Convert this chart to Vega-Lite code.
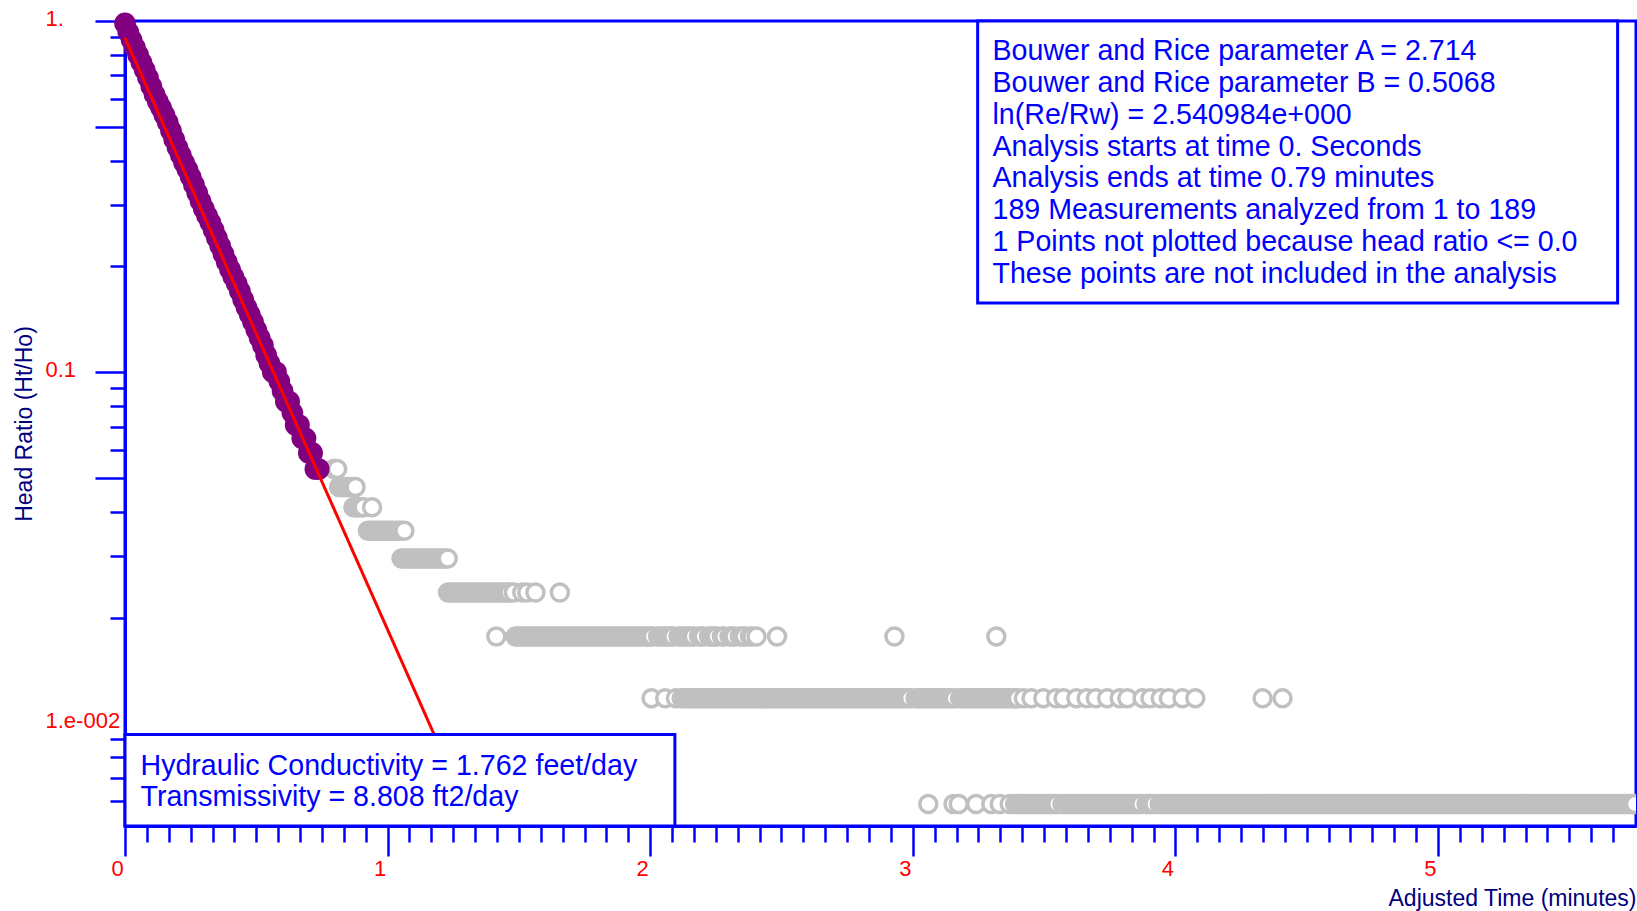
{
  "$schema": "https://vega.github.io/schema/vega-lite/v6.json",
  "width": 1511,
  "height": 805,
  "autosize": {"type": "none"},
  "padding": {"left": 125, "top": 21, "right": 1, "bottom": 85},
  "background": "#FFFFFF",
  "config": {
    "font": "Liberation Sans",
    "view": {"stroke": "#0000FF", "strokeWidth": 3},
    "axis": {
      "grid": false,
      "domainColor": "#0000FF",
      "domainWidth": 3,
      "tickColor": "#0000FF",
      "tickWidth": 2.5,
      "labelColor": "#FF0000",
      "labelFont": "Liberation Sans",
      "labelFontSize": 22,
      "titleColor": "#000080",
      "titleFont": "Liberation Sans",
      "titleFontSize": 23,
      "titleFontWeight": "normal",
      "labelOverlap": false,
      "labelFlush": false
    }
  },
  "datasets": {
    "gray": [
      {"t":0.795,"h":0.05301},{"t":0.801,"h":0.05301},{"t":0.808,"h":0.05301},
      {"t":0.815,"h":0.04712},{"t":0.824,"h":0.04712},{"t":0.833,"h":0.04712},{"t":0.842,"h":0.04712},{"t":0.851,"h":0.04712},{"t":0.86,"h":0.04712},{"t":0.869,"h":0.04712},{"t":0.878,"h":0.04712},
      {"t":0.87,"h":0.04123},{"t":0.878,"h":0.04123},{"t":0.886,"h":0.04123},{"t":0.894,"h":0.04123},{"t":0.902,"h":0.04123},{"t":0.909,"h":0.04123},{"t":0.941,"h":0.04123},
      {"t":0.925,"h":0.03534},{"t":0.935,"h":0.03534},{"t":0.945,"h":0.03534},{"t":0.955,"h":0.03534},{"t":0.965,"h":0.03534},{"t":0.975,"h":0.03534},{"t":0.985,"h":0.03534},{"t":0.995,"h":0.03534},{"t":1.005,"h":0.03534},{"t":1.015,"h":0.03534},{"t":1.025,"h":0.03534},{"t":1.035,"h":0.03534},{"t":1.045,"h":0.03534},{"t":1.055,"h":0.03534},{"t":1.064,"h":0.03534},
      {"t":1.053,"h":0.02945},{"t":1.063,"h":0.02945},{"t":1.073,"h":0.02945},{"t":1.083,"h":0.02945},{"t":1.093,"h":0.02945},{"t":1.103,"h":0.02945},{"t":1.113,"h":0.02945},{"t":1.123,"h":0.02945},{"t":1.133,"h":0.02945},{"t":1.143,"h":0.02945},{"t":1.153,"h":0.02945},{"t":1.163,"h":0.02945},{"t":1.173,"h":0.02945},{"t":1.183,"h":0.02945},{"t":1.193,"h":0.02945},{"t":1.203,"h":0.02945},{"t":1.213,"h":0.02945},{"t":1.221,"h":0.02945},{"t":1.229,"h":0.02945},
      {"t":1.23,"h":0.02356},{"t":1.24,"h":0.02356},{"t":1.25,"h":0.02356},{"t":1.26,"h":0.02356},{"t":1.27,"h":0.02356},{"t":1.28,"h":0.02356},{"t":1.29,"h":0.02356},{"t":1.3,"h":0.02356},{"t":1.31,"h":0.02356},{"t":1.32,"h":0.02356},{"t":1.33,"h":0.02356},{"t":1.34,"h":0.02356},{"t":1.35,"h":0.02356},{"t":1.36,"h":0.02356},{"t":1.37,"h":0.02356},{"t":1.38,"h":0.02356},{"t":1.39,"h":0.02356},{"t":1.4,"h":0.02356},{"t":1.41,"h":0.02356},{"t":1.42,"h":0.02356},{"t":1.43,"h":0.02356},{"t":1.44,"h":0.02356},{"t":1.45,"h":0.02356},{"t":1.458,"h":0.02356},{"t":1.465,"h":0.02356},{"t":1.481,"h":0.02356},{"t":1.513,"h":0.02356},{"t":1.532,"h":0.02356},{"t":1.563,"h":0.02356},{"t":1.656,"h":0.02356},
      {"t":1.414,"h":0.01767},{"t":1.487,"h":0.01767},{"t":1.497,"h":0.01767},{"t":1.507,"h":0.01767},{"t":1.517,"h":0.01767},{"t":1.527,"h":0.01767},{"t":1.537,"h":0.01767},{"t":1.547,"h":0.01767},{"t":1.557,"h":0.01767},{"t":1.567,"h":0.01767},{"t":1.577,"h":0.01767},{"t":1.587,"h":0.01767},{"t":1.597,"h":0.01767},{"t":1.607,"h":0.01767},{"t":1.617,"h":0.01767},{"t":1.627,"h":0.01767},{"t":1.637,"h":0.01767},{"t":1.647,"h":0.01767},{"t":1.657,"h":0.01767},{"t":1.667,"h":0.01767},{"t":1.677,"h":0.01767},{"t":1.687,"h":0.01767},{"t":1.697,"h":0.01767},{"t":1.707,"h":0.01767},{"t":1.717,"h":0.01767},{"t":1.727,"h":0.01767},{"t":1.737,"h":0.01767},{"t":1.747,"h":0.01767},{"t":1.757,"h":0.01767},{"t":1.767,"h":0.01767},{"t":1.777,"h":0.01767},{"t":1.787,"h":0.01767},{"t":1.797,"h":0.01767},{"t":1.807,"h":0.01767},{"t":1.817,"h":0.01767},{"t":1.827,"h":0.01767},{"t":1.837,"h":0.01767},{"t":1.847,"h":0.01767},{"t":1.857,"h":0.01767},{"t":1.867,"h":0.01767},{"t":1.877,"h":0.01767},{"t":1.887,"h":0.01767},{"t":1.897,"h":0.01767},{"t":1.907,"h":0.01767},{"t":1.917,"h":0.01767},{"t":1.927,"h":0.01767},{"t":1.937,"h":0.01767},{"t":1.947,"h":0.01767},{"t":1.957,"h":0.01767},{"t":1.967,"h":0.01767},{"t":1.977,"h":0.01767},{"t":1.987,"h":0.01767},{"t":1.995,"h":0.01767},{"t":2.003,"h":0.01767},{"t":2.01,"h":0.01767},{"t":2.03,"h":0.01767},{"t":2.04,"h":0.01767},{"t":2.05,"h":0.01767},{"t":2.06,"h":0.01767},{"t":2.07,"h":0.01767},{"t":2.08,"h":0.01767},{"t":2.088,"h":0.01767},{"t":2.108,"h":0.01767},{"t":2.118,"h":0.01767},{"t":2.128,"h":0.01767},{"t":2.138,"h":0.01767},{"t":2.148,"h":0.01767},{"t":2.158,"h":0.01767},{"t":2.166,"h":0.01767},{"t":2.186,"h":0.01767},{"t":2.196,"h":0.01767},{"t":2.204,"h":0.01767},{"t":2.224,"h":0.01767},{"t":2.234,"h":0.01767},{"t":2.244,"h":0.01767},{"t":2.253,"h":0.01767},{"t":2.273,"h":0.01767},{"t":2.282,"h":0.01767},{"t":2.302,"h":0.01767},{"t":2.312,"h":0.01767},{"t":2.321,"h":0.01767},{"t":2.341,"h":0.01767},{"t":2.351,"h":0.01767},{"t":2.36,"h":0.01767},{"t":2.38,"h":0.01767},{"t":2.389,"h":0.01767},{"t":2.405,"h":0.01767},{"t":2.483,"h":0.01767},{"t":2.93,"h":0.01767},{"t":3.318,"h":0.01767},
      {"t":2.005,"h":0.01178},{"t":2.057,"h":0.01178},{"t":2.098,"h":0.01178},
      {"t":2.12,"h":0.01178},{"t":2.13,"h":0.01178},{"t":2.14,"h":0.01178},{"t":2.15,"h":0.01178},{"t":2.16,"h":0.01178},{"t":2.17,"h":0.01178},{"t":2.18,"h":0.01178},{"t":2.19,"h":0.01178},{"t":2.2,"h":0.01178},{"t":2.21,"h":0.01178},{"t":2.22,"h":0.01178},{"t":2.23,"h":0.01178},{"t":2.24,"h":0.01178},{"t":2.25,"h":0.01178},{"t":2.26,"h":0.01178},{"t":2.27,"h":0.01178},{"t":2.28,"h":0.01178},{"t":2.29,"h":0.01178},{"t":2.3,"h":0.01178},{"t":2.31,"h":0.01178},{"t":2.32,"h":0.01178},{"t":2.33,"h":0.01178},{"t":2.34,"h":0.01178},{"t":2.35,"h":0.01178},{"t":2.36,"h":0.01178},{"t":2.37,"h":0.01178},{"t":2.38,"h":0.01178},{"t":2.39,"h":0.01178},{"t":2.4,"h":0.01178},{"t":2.41,"h":0.01178},{"t":2.42,"h":0.01178},{"t":2.43,"h":0.01178},{"t":2.44,"h":0.01178},{"t":2.45,"h":0.01178},{"t":2.46,"h":0.01178},{"t":2.47,"h":0.01178},{"t":2.48,"h":0.01178},{"t":2.49,"h":0.01178},{"t":2.5,"h":0.01178},{"t":2.51,"h":0.01178},{"t":2.52,"h":0.01178},{"t":2.53,"h":0.01178},{"t":2.54,"h":0.01178},{"t":2.55,"h":0.01178},{"t":2.56,"h":0.01178},{"t":2.57,"h":0.01178},{"t":2.58,"h":0.01178},{"t":2.59,"h":0.01178},{"t":2.6,"h":0.01178},{"t":2.61,"h":0.01178},{"t":2.62,"h":0.01178},{"t":2.63,"h":0.01178},{"t":2.64,"h":0.01178},{"t":2.65,"h":0.01178},{"t":2.66,"h":0.01178},{"t":2.67,"h":0.01178},{"t":2.68,"h":0.01178},{"t":2.69,"h":0.01178},{"t":2.7,"h":0.01178},{"t":2.71,"h":0.01178},{"t":2.72,"h":0.01178},{"t":2.73,"h":0.01178},{"t":2.74,"h":0.01178},{"t":2.75,"h":0.01178},{"t":2.76,"h":0.01178},{"t":2.77,"h":0.01178},{"t":2.78,"h":0.01178},{"t":2.79,"h":0.01178},{"t":2.8,"h":0.01178},{"t":2.81,"h":0.01178},{"t":2.82,"h":0.01178},{"t":2.83,"h":0.01178},{"t":2.84,"h":0.01178},{"t":2.85,"h":0.01178},{"t":2.86,"h":0.01178},{"t":2.87,"h":0.01178},{"t":2.88,"h":0.01178},{"t":2.89,"h":0.01178},{"t":2.9,"h":0.01178},{"t":2.91,"h":0.01178},{"t":2.92,"h":0.01178},{"t":2.93,"h":0.01178},{"t":2.94,"h":0.01178},{"t":2.95,"h":0.01178},{"t":2.96,"h":0.01178},{"t":2.97,"h":0.01178},{"t":2.98,"h":0.01178},{"t":2.99,"h":0.01178},
      {"t":3.01,"h":0.01178},{"t":3.02,"h":0.01178},{"t":3.03,"h":0.01178},{"t":3.04,"h":0.01178},{"t":3.05,"h":0.01178},{"t":3.06,"h":0.01178},{"t":3.07,"h":0.01178},{"t":3.08,"h":0.01178},{"t":3.09,"h":0.01178},{"t":3.1,"h":0.01178},{"t":3.11,"h":0.01178},{"t":3.12,"h":0.01178},{"t":3.13,"h":0.01178},{"t":3.14,"h":0.01178},{"t":3.15,"h":0.01178},{"t":3.16,"h":0.01178},
      {"t":3.18,"h":0.01178},{"t":3.19,"h":0.01178},{"t":3.2,"h":0.01178},{"t":3.21,"h":0.01178},{"t":3.22,"h":0.01178},{"t":3.23,"h":0.01178},{"t":3.24,"h":0.01178},{"t":3.25,"h":0.01178},{"t":3.26,"h":0.01178},{"t":3.27,"h":0.01178},{"t":3.28,"h":0.01178},{"t":3.29,"h":0.01178},{"t":3.3,"h":0.01178},{"t":3.31,"h":0.01178},{"t":3.32,"h":0.01178},{"t":3.33,"h":0.01178},{"t":3.34,"h":0.01178},{"t":3.35,"h":0.01178},{"t":3.36,"h":0.01178},{"t":3.37,"h":0.01178},{"t":3.38,"h":0.01178},{"t":3.39,"h":0.01178},{"t":3.4,"h":0.01178},
      {"t":3.423,"h":0.01178},{"t":3.452,"h":0.01178},{"t":3.497,"h":0.01178},{"t":3.545,"h":0.01178},{"t":3.574,"h":0.01178},{"t":3.623,"h":0.01178},{"t":3.662,"h":0.01178},{"t":3.697,"h":0.01178},{"t":3.74,"h":0.01178},{"t":3.788,"h":0.01178},{"t":3.817,"h":0.01178},{"t":3.875,"h":0.01178},{"t":3.905,"h":0.01178},{"t":3.944,"h":0.01178},{"t":3.975,"h":0.01178},{"t":4.027,"h":0.01178},{"t":4.076,"h":0.01178},{"t":4.332,"h":0.01178},{"t":4.408,"h":0.01178},
      {"t":3.059,"h":0.00589},{"t":3.155,"h":0.00589},{"t":3.175,"h":0.00589},{"t":3.241,"h":0.00589},{"t":3.299,"h":0.00589},{"t":3.331,"h":0.00589},{"t":3.369,"h":0.00589},
      {"t":3.39,"h":0.00589},{"t":3.4,"h":0.00589},{"t":3.41,"h":0.00589},{"t":3.42,"h":0.00589},{"t":3.43,"h":0.00589},{"t":3.44,"h":0.00589},{"t":3.45,"h":0.00589},{"t":3.46,"h":0.00589},{"t":3.47,"h":0.00589},{"t":3.48,"h":0.00589},{"t":3.49,"h":0.00589},{"t":3.5,"h":0.00589},{"t":3.51,"h":0.00589},{"t":3.52,"h":0.00589},{"t":3.53,"h":0.00589},{"t":3.54,"h":0.00589},{"t":3.55,"h":0.00589},
      {"t":3.57,"h":0.00589},{"t":3.58,"h":0.00589},{"t":3.59,"h":0.00589},{"t":3.6,"h":0.00589},{"t":3.61,"h":0.00589},{"t":3.62,"h":0.00589},{"t":3.63,"h":0.00589},{"t":3.64,"h":0.00589},{"t":3.65,"h":0.00589},{"t":3.66,"h":0.00589},{"t":3.67,"h":0.00589},{"t":3.68,"h":0.00589},{"t":3.69,"h":0.00589},{"t":3.7,"h":0.00589},{"t":3.71,"h":0.00589},{"t":3.72,"h":0.00589},{"t":3.73,"h":0.00589},{"t":3.74,"h":0.00589},{"t":3.75,"h":0.00589},{"t":3.76,"h":0.00589},{"t":3.77,"h":0.00589},{"t":3.78,"h":0.00589},{"t":3.79,"h":0.00589},{"t":3.8,"h":0.00589},{"t":3.81,"h":0.00589},{"t":3.82,"h":0.00589},{"t":3.83,"h":0.00589},{"t":3.84,"h":0.00589},{"t":3.85,"h":0.00589},{"t":3.86,"h":0.00589},{"t":3.87,"h":0.00589},
      {"t":3.89,"h":0.00589},{"t":3.9,"h":0.00589},{"t":3.91,"h":0.00589},{"t":3.92,"h":0.00589},
      {"t":3.94,"h":0.00589},{"t":3.95,"h":0.00589},{"t":3.96,"h":0.00589},{"t":3.97,"h":0.00589},{"t":3.98,"h":0.00589},{"t":3.99,"h":0.00589},
      {"t":4.0,"h":0.00589},{"t":4.01,"h":0.00589},{"t":4.02,"h":0.00589},{"t":4.03,"h":0.00589},{"t":4.04,"h":0.00589},{"t":4.05,"h":0.00589},{"t":4.06,"h":0.00589},{"t":4.07,"h":0.00589},{"t":4.08,"h":0.00589},{"t":4.09,"h":0.00589},
      {"t":4.1,"h":0.00589},{"t":4.11,"h":0.00589},{"t":4.12,"h":0.00589},{"t":4.13,"h":0.00589},{"t":4.14,"h":0.00589},{"t":4.15,"h":0.00589},{"t":4.16,"h":0.00589},{"t":4.17,"h":0.00589},{"t":4.18,"h":0.00589},{"t":4.19,"h":0.00589},
      {"t":4.2,"h":0.00589},{"t":4.21,"h":0.00589},{"t":4.22,"h":0.00589},{"t":4.23,"h":0.00589},{"t":4.24,"h":0.00589},{"t":4.25,"h":0.00589},{"t":4.26,"h":0.00589},{"t":4.27,"h":0.00589},{"t":4.28,"h":0.00589},{"t":4.29,"h":0.00589},
      {"t":4.3,"h":0.00589},{"t":4.31,"h":0.00589},{"t":4.32,"h":0.00589},{"t":4.33,"h":0.00589},{"t":4.34,"h":0.00589},{"t":4.35,"h":0.00589},{"t":4.36,"h":0.00589},{"t":4.37,"h":0.00589},{"t":4.38,"h":0.00589},{"t":4.39,"h":0.00589},
      {"t":4.4,"h":0.00589},{"t":4.41,"h":0.00589},{"t":4.42,"h":0.00589},{"t":4.43,"h":0.00589},{"t":4.44,"h":0.00589},{"t":4.45,"h":0.00589},{"t":4.46,"h":0.00589},{"t":4.47,"h":0.00589},{"t":4.48,"h":0.00589},{"t":4.49,"h":0.00589},
      {"t":4.5,"h":0.00589},{"t":4.51,"h":0.00589},{"t":4.52,"h":0.00589},{"t":4.53,"h":0.00589},{"t":4.54,"h":0.00589},{"t":4.55,"h":0.00589},{"t":4.56,"h":0.00589},{"t":4.57,"h":0.00589},{"t":4.58,"h":0.00589},{"t":4.59,"h":0.00589},
      {"t":4.6,"h":0.00589},{"t":4.61,"h":0.00589},{"t":4.62,"h":0.00589},{"t":4.63,"h":0.00589},{"t":4.64,"h":0.00589},{"t":4.65,"h":0.00589},{"t":4.66,"h":0.00589},{"t":4.67,"h":0.00589},{"t":4.68,"h":0.00589},{"t":4.69,"h":0.00589},
      {"t":4.7,"h":0.00589},{"t":4.71,"h":0.00589},{"t":4.72,"h":0.00589},{"t":4.73,"h":0.00589},{"t":4.74,"h":0.00589},{"t":4.75,"h":0.00589},{"t":4.76,"h":0.00589},{"t":4.77,"h":0.00589},{"t":4.78,"h":0.00589},{"t":4.79,"h":0.00589},
      {"t":4.8,"h":0.00589},{"t":4.81,"h":0.00589},{"t":4.82,"h":0.00589},{"t":4.83,"h":0.00589},{"t":4.84,"h":0.00589},{"t":4.85,"h":0.00589},{"t":4.86,"h":0.00589},{"t":4.87,"h":0.00589},{"t":4.88,"h":0.00589},{"t":4.89,"h":0.00589},
      {"t":4.9,"h":0.00589},{"t":4.91,"h":0.00589},{"t":4.92,"h":0.00589},{"t":4.93,"h":0.00589},{"t":4.94,"h":0.00589},{"t":4.95,"h":0.00589},{"t":4.96,"h":0.00589},{"t":4.97,"h":0.00589},{"t":4.98,"h":0.00589},{"t":4.99,"h":0.00589},
      {"t":5.0,"h":0.00589},{"t":5.01,"h":0.00589},{"t":5.02,"h":0.00589},{"t":5.03,"h":0.00589},{"t":5.04,"h":0.00589},{"t":5.05,"h":0.00589},{"t":5.06,"h":0.00589},{"t":5.07,"h":0.00589},{"t":5.08,"h":0.00589},{"t":5.09,"h":0.00589},
      {"t":5.1,"h":0.00589},{"t":5.11,"h":0.00589},{"t":5.12,"h":0.00589},{"t":5.13,"h":0.00589},{"t":5.14,"h":0.00589},{"t":5.15,"h":0.00589},{"t":5.16,"h":0.00589},{"t":5.17,"h":0.00589},{"t":5.18,"h":0.00589},{"t":5.19,"h":0.00589},
      {"t":5.2,"h":0.00589},{"t":5.21,"h":0.00589},{"t":5.22,"h":0.00589},{"t":5.23,"h":0.00589},{"t":5.24,"h":0.00589},{"t":5.25,"h":0.00589},{"t":5.26,"h":0.00589},{"t":5.27,"h":0.00589},{"t":5.28,"h":0.00589},{"t":5.29,"h":0.00589},
      {"t":5.3,"h":0.00589},{"t":5.31,"h":0.00589},{"t":5.32,"h":0.00589},{"t":5.33,"h":0.00589},{"t":5.34,"h":0.00589},{"t":5.35,"h":0.00589},{"t":5.36,"h":0.00589},{"t":5.37,"h":0.00589},{"t":5.38,"h":0.00589},{"t":5.39,"h":0.00589},
      {"t":5.4,"h":0.00589},{"t":5.41,"h":0.00589},{"t":5.42,"h":0.00589},{"t":5.43,"h":0.00589},{"t":5.44,"h":0.00589},{"t":5.45,"h":0.00589},{"t":5.46,"h":0.00589},{"t":5.47,"h":0.00589},{"t":5.48,"h":0.00589},{"t":5.49,"h":0.00589},
      {"t":5.5,"h":0.00589},{"t":5.51,"h":0.00589},{"t":5.52,"h":0.00589},{"t":5.53,"h":0.00589},{"t":5.54,"h":0.00589},{"t":5.55,"h":0.00589},{"t":5.56,"h":0.00589},{"t":5.57,"h":0.00589},{"t":5.58,"h":0.00589},{"t":5.59,"h":0.00589},
      {"t":5.6,"h":0.00589},{"t":5.61,"h":0.00589},{"t":5.62,"h":0.00589},{"t":5.63,"h":0.00589},{"t":5.64,"h":0.00589},{"t":5.65,"h":0.00589},{"t":5.66,"h":0.00589},{"t":5.67,"h":0.00589},{"t":5.68,"h":0.00589},{"t":5.69,"h":0.00589},
      {"t":5.7,"h":0.00589},{"t":5.71,"h":0.00589},{"t":5.72,"h":0.00589},{"t":5.73,"h":0.00589},{"t":5.74,"h":0.00589},{"t":5.75,"h":0.00589}
    ],
    "purple": [
      {"t":0,"h":0.985},{"t":0.0125,"h":0.93},{"t":0.025,"h":0.884},{"t":0.0375,"h":0.841},{"t":0.05,"h":0.8},{"t":0.0625,"h":0.762},{"t":0.075,"h":0.726},{"t":0.0875,"h":0.69},{"t":0.1,"h":0.652},{"t":0.1125,"h":0.618},{"t":0.125,"h":0.59},{"t":0.1375,"h":0.566},{"t":0.15,"h":0.54},{"t":0.1625,"h":0.515},{"t":0.175,"h":0.487},{"t":0.1875,"h":0.46},{"t":0.2,"h":0.436},{"t":0.2125,"h":0.415},{"t":0.225,"h":0.395},{"t":0.2375,"h":0.378},{"t":0.25,"h":0.36},{"t":0.2625,"h":0.342},{"t":0.275,"h":0.324},{"t":0.2875,"h":0.307},{"t":0.3,"h":0.292},{"t":0.3125,"h":0.279},{"t":0.325,"h":0.267},{"t":0.3375,"h":0.254},{"t":0.35,"h":0.241},{"t":0.3625,"h":0.229},{"t":0.375,"h":0.217},{"t":0.3875,"h":0.206},{"t":0.4,"h":0.196},{"t":0.4125,"h":0.187},{"t":0.425,"h":0.179},{"t":0.4375,"h":0.17},{"t":0.45,"h":0.161},{"t":0.4625,"h":0.153},{"t":0.475,"h":0.146},{"t":0.4875,"h":0.139},{"t":0.5,"h":0.132},{"t":0.5125,"h":0.1254},{"t":0.525,"h":0.1193},{"t":0.5375,"h":0.1119},{"t":0.55,"h":0.106},{"t":0.5625,"h":0.1001},{"t":0.575,"h":0.1001},{"t":0.5875,"h":0.0942},{"t":0.6,"h":0.0884},{"t":0.6125,"h":0.0825},{"t":0.625,"h":0.0825},{"t":0.6375,"h":0.0766},{"t":0.65,"h":0.0707},{"t":0.6625,"h":0.0707},{"t":0.675,"h":0.0648},{"t":0.6875,"h":0.0648},{"t":0.7,"h":0.0589},{"t":0.7125,"h":0.0589},{"t":0.725,"h":0.053},{"t":0.7375,"h":0.053}
    ],
    "fit": [
      {"t":0,"h":0.895},{"t":1.3,"h":0.00577}
    ]
  },
  "layer": [
    {
      "data": {"name": "gray"},
      "mark": {"type": "circle", "size": 289, "fill": "#FFFFFF", "stroke": "#C0C0C0", "strokeWidth": 3.5, "opacity": 1, "clip": true},
      "encoding": {
        "x": {"field": "t", "type": "quantitative", "scale": {"domain": [0, 5.754], "nice": false, "zero": false},
          "axis": {"orient": "bottom", "values": [0,1,2,3,4,5], "tickSize": 30, "labelPadding": 2, "labelOffset": -8, "labelAlign": "center",
            "title": "Adjusted Time (minutes)", "titleAnchor": "end", "titlePadding": 8}},
        "y": {"field": "h", "type": "quantitative", "scale": {"type": "log", "domain": [0.0051, 1], "nice": false},
          "axis": {"orient": "left", "values": [1,0.5,0.1,0.05,0.01], "tickSize": 30,
            "labelExpr": "datum.value == 1 ? '1.' : datum.value == 0.1 ? '0.1' : datum.value == 0.01 ? '1.e-002' : ''",
            "labelAlign": "left", "labelBaseline": "middle", "labelPadding": 50, "labelOffset": -3,
            "tickColor": {"condition": {"test": "datum.value == 0.01", "value": "transparent"}, "value": "#0000FF"},
            "title": "Head Ratio (Ht/Ho)", "titlePadding": 9}}
      }
    },
    {
      "data": {"name": "purple"},
      "mark": {"type": "circle", "size": 470, "color": "#800080", "opacity": 1},
      "encoding": {
        "x": {"field": "t", "type": "quantitative", "scale": {"domain": [0, 5.754], "nice": false, "zero": false},
          "axis": {"orient": "bottom", "values": [0.0833,0.1667,0.25,0.3333,0.4167,0.5,0.5833,0.6667,0.75,0.8333,0.9167,1.0833,1.1667,1.25,1.3333,1.4167,1.5,1.5833,1.6667,1.75,1.8333,1.9167,2.0833,2.1667,2.25,2.3333,2.4167,2.5,2.5833,2.6667,2.75,2.8333,2.9167,3.0833,3.1667,3.25,3.3333,3.4167,3.5,3.5833,3.6667,3.75,3.8333,3.9167,4.0833,4.1667,4.25,4.3333,4.4167,4.5,4.5833,4.6667,4.75,4.8333,4.9167,5.0833,5.1667,5.25,5.3333,5.4167,5.5,5.5833,5.6667],
            "tickSize": 16, "labels": false, "domain": false, "title": null}},
        "y": {"field": "h", "type": "quantitative", "scale": {"type": "log", "domain": [0.0051, 1], "nice": false},
          "axis": {"orient": "left", "values": [0.9,0.8,0.7,0.6,0.4,0.3,0.2,0.09,0.08,0.07,0.06,0.04,0.03,0.02,0.009,0.008,0.007,0.006],
            "tickSize": 15, "labels": false, "domain": false, "title": null}}
      }
    },
    {
      "data": {"name": "fit"},
      "mark": {"type": "line", "color": "#FF0000", "strokeWidth": 3},
      "encoding": {
        "x": {"field": "t", "type": "quantitative", "scale": {"domain": [0, 5.754], "nice": false, "zero": false}, "axis": null},
        "y": {"field": "h", "type": "quantitative", "scale": {"type": "log", "domain": [0.0051, 1], "nice": false}, "axis": null}
      }
    },
    {
      "data": {"values": [{}]},
      "mark": {"type": "rect", "fill": "#FFFFFF", "stroke": "#0000FF", "strokeWidth": 3},
      "encoding": {
        "x": {"datum": 3.247, "type": "quantitative", "scale": {"domain": [0, 5.754], "nice": false, "zero": false}, "axis": null},
        "x2": {"datum": 5.684},
        "y": {"datum": 1, "type": "quantitative", "scale": {"type": "log", "domain": [0.0051, 1], "nice": false}, "axis": null},
        "y2": {"datum": 0.1575}
      }
    },
    {
      "data": {"values": [{}]},
      "mark": {"type": "rect", "fill": "#FFFFFF", "stroke": "#0000FF", "strokeWidth": 3},
      "encoding": {
        "x": {"datum": 0, "type": "quantitative", "scale": {"domain": [0, 5.754], "nice": false, "zero": false}, "axis": null},
        "x2": {"datum": 2.094},
        "y": {"datum": 0.0093, "type": "quantitative", "scale": {"type": "log", "domain": [0.0051, 1], "nice": false}, "axis": null},
        "y2": {"datum": 0.0051}
      }
    },
    {
      "data": {"values": [{}]},
      "mark": {"type": "text", "align": "left", "baseline": "middle", "fontSize": 28.6, "lineHeight": 31.8, "color": "#0000FF", "font": "Liberation Sans",
        "text": ["Bouwer and Rice parameter A = 2.714", "Bouwer and Rice parameter B = 0.5068", "ln(Re/Rw) = 2.540984e+000", "Analysis starts at time 0. Seconds", "Analysis ends at time 0.79 minutes", "189 Measurements analyzed from 1 to 189", "1 Points not plotted because head ratio <= 0.0", "These points are not included in the analysis"]},
      "encoding": {
        "x": {"datum": 3.3035, "type": "quantitative", "scale": {"domain": [0, 5.754], "nice": false, "zero": false}, "axis": null},
        "y": {"datum": 0.8203, "type": "quantitative", "scale": {"type": "log", "domain": [0.0051, 1], "nice": false}, "axis": null}
      }
    },
    {
      "data": {"values": [{}]},
      "mark": {"type": "text", "align": "left", "baseline": "middle", "fontSize": 28.6, "lineHeight": 31.8, "color": "#0000FF", "font": "Liberation Sans",
        "text": ["Hydraulic Conductivity = 1.762 feet/day", "Transmissivity = 8.808 ft2/day"]},
      "encoding": {
        "x": {"datum": 0.059, "type": "quantitative", "scale": {"domain": [0, 5.754], "nice": false, "zero": false}, "axis": null},
        "y": {"datum": 0.00758, "type": "quantitative", "scale": {"type": "log", "domain": [0.0051, 1], "nice": false}, "axis": null}
      }
    }
  ],
  "resolve": {"axis": {"x": "independent", "y": "independent"}}
}
